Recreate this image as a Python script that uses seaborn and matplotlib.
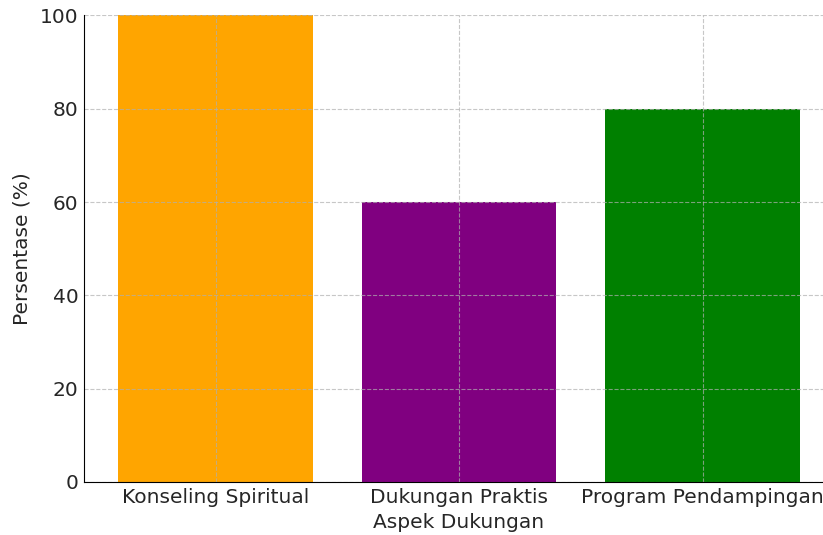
import pandas as pd
import seaborn as sns
import matplotlib
matplotlib.use("Agg")
import matplotlib.pyplot as plt

# data
aspek = ["Konseling Spiritual", "Dukungan Praktis", "Program Pendampingan"]
persentase = [100, 60, 80]
warna = ["orange", "purple", "green"]

df = pd.DataFrame({"Aspek Dukungan": aspek, "Persentase (%)": persentase})

plt.rcParams["font.family"] = ["DejaVu Sans"]
plt.rcParams["font.size"] = 14.5

fig = plt.figure(figsize=(8.23, 5.35), dpi=100)
# axes run past the right edge, as in the cropped original
ax = fig.add_axes([0.1021, 0.0991, 0.9113, 0.872])

sns.barplot(data=df, x="Aspek Dukungan", y="Persentase (%)", hue="Aspek Dukungan",
            palette=warna, width=0.8, saturation=1, legend=False, ax=ax)

ax.set_xlim(-0.54, 2.54)
ax.set_ylim(0, 100)
ax.set_yticks([0, 20, 40, 60, 80, 100])
ax.grid(True, linestyle="--", color="#b0b0b0", alpha=0.7)
sns.despine(ax=ax)
ax.set_xlabel("Aspek Dukungan", color="#262626", labelpad=5)
ax.set_ylabel("Persentase (%)", color="#262626", labelpad=6)
ax.tick_params(colors="#262626", length=0, pad=4)

fig.savefig("out.png", dpi=100)
